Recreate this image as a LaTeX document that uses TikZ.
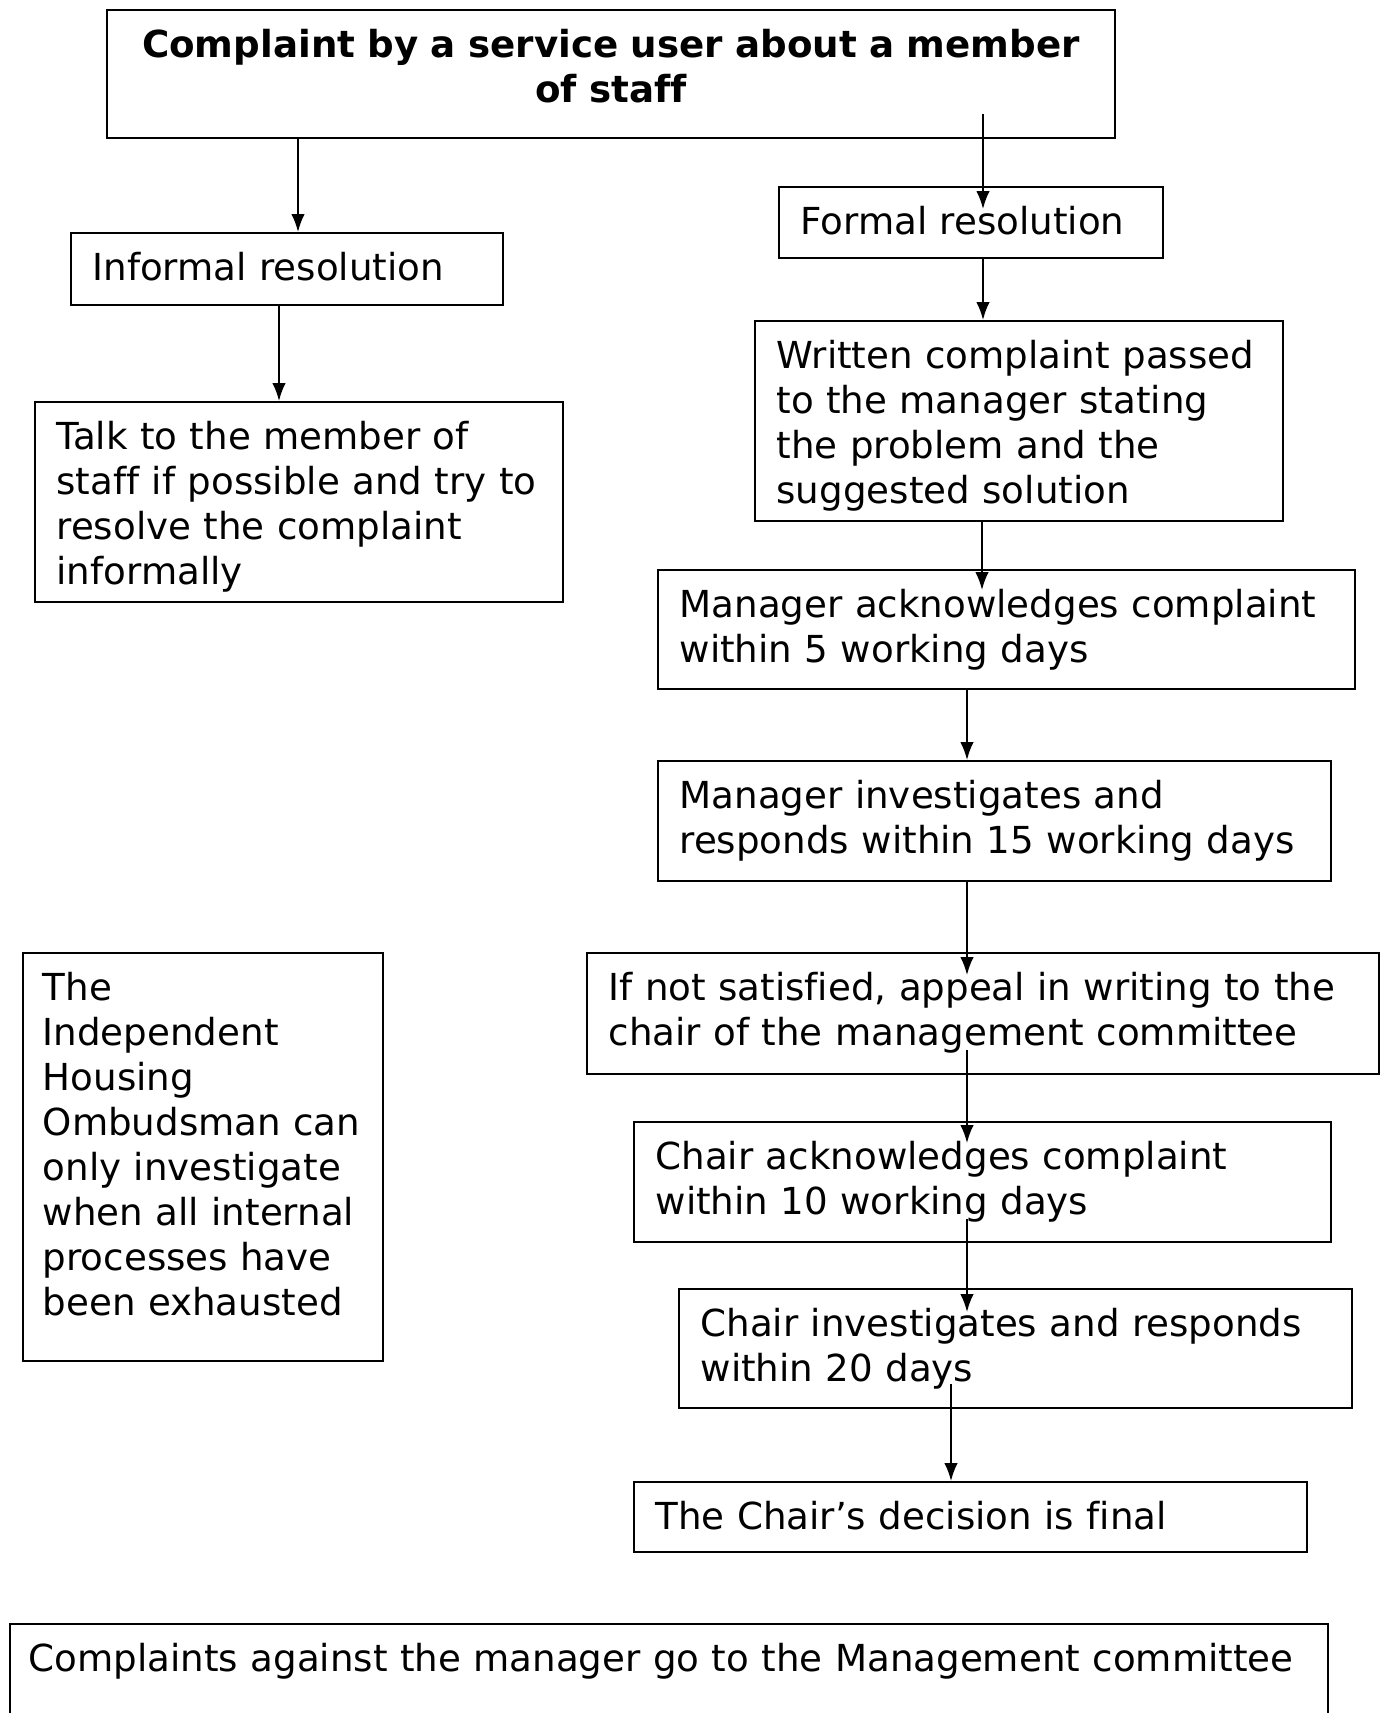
\documentclass[tikz,border=0pt]{standalone}
\usepackage{fontspec}
\setmainfont{DejaVu Sans}[Ligatures=NoCommon]
\usetikzlibrary{calc}
\usetikzlibrary{arrows.meta}
\tikzset{>={Latex[length=6pt,width=4.5pt]}}
\tikzset{box/.style = {draw, line width=0.65pt, anchor=north west, align=left,
    inner xsep=7.2pt, inner ysep=0pt, text height=16pt,
    font=\fontsize{12.4}{15}\selectfont}}
\tikzset{flow/.style = {->, line width=0.6pt}}

\begin{document}
\begin{tikzpicture}[x=0.33333pt, y=-0.33333pt]
            \useasboundingbox (0,0) rectangle (1386,1713);

            % Boxes
            \node[box, align=center, text width=321.6pt, text depth=26.67pt,
                  font=\fontsize{12.4}{15}\selectfont\bfseries] (top) at (106,9)
                {Complaint by a service user about a member\\ of staff};
            \node[box, text width=129.6pt, text depth=8pt] (informal) at (70,232)
                {Informal resolution};
            \node[box, text width=161.6pt, text depth=50.67pt] (talk) at (34,401)
                {Talk to the member of\\ staff if possible and try to\\ resolve the complaint\\ informally};
            \node[box, text width=113.6pt, text depth=7.67pt] (formal) at (778,186)
                {Formal resolution};
            \node[box, text width=161.6pt, text depth=50.67pt] (written) at (754,320)
                {Written complaint passed\\ to the manager stating\\ the problem and the\\ suggested solution};
            \node[box, text width=217.93pt, text depth=23.67pt] (mack) at (657,569)
                {Manager acknowledges complaint\\ within 5 working days};
            \node[box, text width=209.93pt, text depth=24pt] (minv) at (657,760)
                {Manager investigates and\\ responds within 15 working days};
            \node[box, text width=249.6pt, text depth=24.33pt] (appeal) at (586,952)
                {If not satisfied, appeal in writing to the\\ chair of the management committee};
            \node[box, text width=217.93pt, text depth=24pt] (cack) at (633,1121)
                {Chair acknowledges complaint\\ within 10 working days};
            \node[box, text width=209.93pt, text depth=23.67pt] (cinv) at (678,1288)
                {Chair investigates and responds\\ within 20 days};
            \node[box, text width=209.93pt, text depth=7.33pt] (final) at (633,1481)
                {The Chair’s decision is final};
            \node[box, inner xsep=6.6pt, text width=106.8pt, text depth=120pt] (ombud) at (22,952)
                {The\\ Independent\\ Housing\\ Ombudsman can\\ only investigate\\ when all internal\\ processes have\\ been exhausted};
            \node[box, inner xsep=6.2pt, text width=426.93pt, text depth=34pt] (mgr) at (9,1623)
                {Complaints against the manager go to the Management committee};

            % Arrows
            % informal side
            \draw[flow] (top.south -| 298,0) -- (informal.north -| 298,0);
            \draw[flow] (informal.south -| 279,0) -- (talk.north -| 279,0);

            % formal side
            \draw[flow] ($(top.south -| 983,0)+(0,-25)$) -- ($(formal.north -| 983,0)+(0,23)$);
            \draw[flow] (formal.south -| 983,0) -- (written.north -| 983,0);
            \draw[flow] (written.south -| 982,0) -- ($(mack.north -| 982,0)+(0,21)$);
            \draw[flow] (mack.south -| 967,0) -- (minv.north -| 967,0);
            \draw[flow] (minv.south -| 967,0) -- ($(appeal.north -| 967,0)+(0,23)$);
            \draw[flow] ($(appeal.south -| 967,0)+(0,-25)$) -- ($(cack.north -| 967,0)+(0,22)$);
            \draw[flow] ($(cack.south -| 967,0)+(0,-24)$) -- ($(cinv.north -| 967,0)+(0,24)$);
            \draw[flow] ($(cinv.south -| 951,0)+(0,-25)$) -- (final.north -| 951,0);
\end{tikzpicture}
\end{document}
